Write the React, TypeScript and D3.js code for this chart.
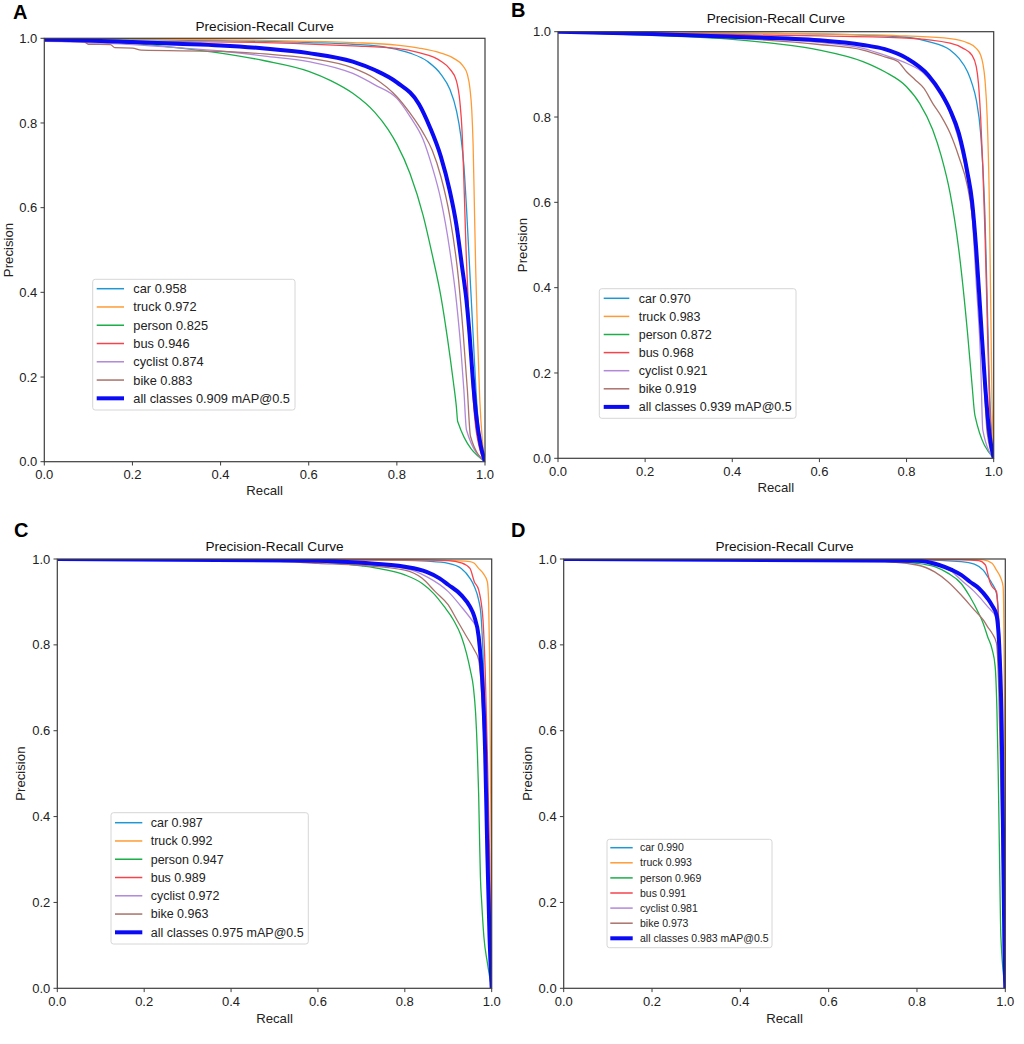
import React from 'react'
import * as d3 from 'd3'

// class names, colours and tick values shared by the four panels
const classNames = ['car', 'truck', 'person', 'bus', 'cyclist', 'bike', 'all classes']
const colors = ['#1f97d2', '#ff9b36', '#1bae49', '#f5444c', '#b189d8', '#a9726a', '#0a0af5']
const tickValues = [0, 0.2, 0.4, 0.6, 0.8, 1.0]

// AP per class (last one = mAP@0.5)
const apA = [0.958, 0.972, 0.825, 0.946, 0.874, 0.883, 0.909]
const apB = [0.970, 0.983, 0.872, 0.968, 0.921, 0.919, 0.939]
const apC = [0.987, 0.992, 0.947, 0.989, 0.972, 0.963, 0.975]
const apD = [0.990, 0.993, 0.969, 0.991, 0.981, 0.973, 0.983]

// [recall, precision] points
// panel A
const aCar = [[0, 1], [0.3, 0.996], [0.6, 0.99], [0.7, 0.986], [0.78, 0.978], [0.83, 0.965], [0.87, 0.945], [0.9, 0.915], [0.92, 0.88], [0.935, 0.83], [0.945, 0.77], [0.952, 0.7], [0.958, 0.6], [0.963, 0.5], [0.968, 0.4], [0.974, 0.28], [0.98, 0.16], [0.988, 0.06], [1, 0]]
const aTruck = [[0, 1], [0.5, 0.995], [0.7, 0.99], [0.8, 0.984], [0.85, 0.977], [0.9, 0.965], [0.93, 0.952], [0.95, 0.935], [0.96, 0.915], [0.966, 0.88], [0.97, 0.83], [0.973, 0.75], [0.976, 0.6], [0.979, 0.45], [0.983, 0.3], [0.988, 0.15], [0.994, 0.05], [1, 0]]
const aPerson = [[0, 0.998], [0.1, 0.995], [0.2, 0.988], [0.3, 0.978], [0.4, 0.965], [0.5, 0.947], [0.6, 0.922], [0.65, 0.9], [0.7, 0.87], [0.75, 0.825], [0.78, 0.785], [0.8, 0.75], [0.83, 0.68], [0.86, 0.58], [0.88, 0.49], [0.9, 0.39], [0.915, 0.29], [0.928, 0.19], [0.935, 0.13], [0.938, 0.095], [1, 0]]
const aBus = [[0, 0.995], [0.3, 0.992], [0.5, 0.99], [0.7, 0.982], [0.8, 0.976], [0.85, 0.966], [0.9, 0.946], [0.92, 0.928], [0.935, 0.9], [0.943, 0.85], [0.948, 0.78], [0.951, 0.7], [0.954, 0.6], [0.957, 0.5], [0.961, 0.4], [0.965, 0.3], [0.97, 0.2], [0.977, 0.1], [0.988, 0.03], [1, 0]]
const aCyclist = [[0, 0.995], [0.1, 0.99], [0.2, 0.985], [0.3, 0.978], [0.4, 0.97], [0.5, 0.958], [0.6, 0.945], [0.7, 0.917], [0.75, 0.89], [0.8, 0.858], [0.83, 0.815], [0.86, 0.76], [0.88, 0.697], [0.9, 0.618], [0.92, 0.5], [0.935, 0.38], [0.945, 0.27], [0.952, 0.17], [0.958, 0.075], [1, 0]]
const aBike = [[0, 0.993], [0.09, 0.992], [0.1, 0.986], [0.15, 0.985], [0.16, 0.978], [0.2, 0.977], [0.22, 0.972], [0.4, 0.969], [0.5, 0.963], [0.6, 0.953], [0.7, 0.93], [0.75, 0.905], [0.8, 0.862], [0.83, 0.823], [0.86, 0.776], [0.88, 0.736], [0.9, 0.673], [0.92, 0.58], [0.94, 0.43], [0.95, 0.31], [0.96, 0.17], [0.967, 0.06], [1, 0]]
const aAll = [[0, 0.997], [0.1, 0.995], [0.2, 0.991], [0.3, 0.987], [0.4, 0.983], [0.5, 0.976], [0.6, 0.965], [0.7, 0.945], [0.75, 0.925], [0.8, 0.896], [0.85, 0.845], [0.875, 0.79], [0.9, 0.72], [0.92, 0.64], [0.935, 0.56], [0.948, 0.46], [0.958, 0.38], [0.965, 0.3], [0.972, 0.2], [0.98, 0.11], [0.99, 0.04], [1, 0]]

// panel B
const bCar = [[0, 1], [0.5, 0.996], [0.7, 0.992], [0.8, 0.987], [0.85, 0.977], [0.9, 0.957], [0.92, 0.938], [0.94, 0.906], [0.95, 0.879], [0.96, 0.84], [0.97, 0.762], [0.975, 0.684], [0.98, 0.566], [0.985, 0.371], [0.99, 0.176], [0.995, 0.059], [1, 0]]
const bTruck = [[0, 1], [0.6, 0.995], [0.8, 0.99], [0.9, 0.984], [0.94, 0.974], [0.96, 0.961], [0.97, 0.945], [0.975, 0.926], [0.98, 0.887], [0.985, 0.8], [0.99, 0.6], [0.993, 0.37], [0.996, 0.14], [1, 0]]
const bPerson = [[0, 0.999], [0.2, 0.992], [0.4, 0.982], [0.5, 0.972], [0.6, 0.957], [0.7, 0.93], [0.75, 0.906], [0.8, 0.871], [0.83, 0.832], [0.86, 0.77], [0.88, 0.707], [0.9, 0.621], [0.92, 0.488], [0.94, 0.293], [0.95, 0.176], [0.957, 0.1], [1, 0]]
const bBus = [[0, 1], [0.3, 0.995], [0.6, 0.99], [0.8, 0.985], [0.9, 0.973], [0.93, 0.961], [0.95, 0.945], [0.96, 0.918], [0.965, 0.879], [0.97, 0.8], [0.975, 0.684], [0.98, 0.527], [0.985, 0.332], [0.99, 0.137], [1, 0]]
const bCyclist = [[0, 1], [0.3, 0.99], [0.6, 0.975], [0.7, 0.961], [0.75, 0.945], [0.8, 0.926], [0.84, 0.902], [0.88, 0.848], [0.9, 0.809], [0.92, 0.746], [0.94, 0.652], [0.95, 0.574], [0.96, 0.41], [0.97, 0.23], [0.975, 0.066], [1, 0]]
const bBike = [[0, 1], [0.3, 0.99], [0.6, 0.97], [0.7, 0.957], [0.75, 0.941], [0.78, 0.93], [0.8, 0.906], [0.82, 0.887], [0.84, 0.867], [0.86, 0.832], [0.88, 0.801], [0.9, 0.762], [0.92, 0.707], [0.94, 0.637], [0.95, 0.574], [0.96, 0.465], [0.97, 0.332], [0.98, 0.137], [0.985, 0.06], [1, 0]]
const bAll = [[0, 1], [0.2, 0.995], [0.4, 0.988], [0.6, 0.98], [0.7, 0.969], [0.75, 0.959], [0.8, 0.938], [0.85, 0.898], [0.88, 0.855], [0.9, 0.816], [0.92, 0.762], [0.94, 0.668], [0.95, 0.605], [0.96, 0.488], [0.97, 0.332], [0.98, 0.176], [0.99, 0.059], [1, 0]]

// panel C
const cCar = [[0, 1], [0.6, 0.998], [0.8, 0.997], [0.85, 0.995], [0.9, 0.99], [0.93, 0.978], [0.95, 0.955], [0.96, 0.936], [0.97, 0.904], [0.975, 0.873], [0.98, 0.78], [0.985, 0.625], [0.99, 0.392], [0.995, 0.159], [1, 0]]
const cTruck = [[0, 1], [0.8, 0.998], [0.9, 0.997], [0.95, 0.994], [0.96, 0.99], [0.97, 0.978], [0.98, 0.967], [0.99, 0.947], [0.993, 0.897], [0.995, 0.78], [0.997, 0.547], [0.999, 0.237], [1, 0]]
const cPerson = [[0, 1], [0.5, 0.997], [0.6, 0.994], [0.7, 0.984], [0.75, 0.976], [0.8, 0.963], [0.84, 0.943], [0.866, 0.92], [0.89, 0.89], [0.912, 0.858], [0.93, 0.82], [0.942, 0.78], [0.951, 0.74], [0.958, 0.7], [0.963, 0.64], [0.967, 0.55], [0.97, 0.45], [0.972, 0.35], [0.974, 0.26], [0.977, 0.2], [0.982, 0.12], [0.99, 0.06], [1, 0]]
const cBus = [[0, 1], [0.8, 0.998], [0.9, 0.996], [0.93, 0.991], [0.95, 0.978], [0.96, 0.947], [0.97, 0.928], [0.975, 0.904], [0.98, 0.858], [0.985, 0.741], [0.99, 0.547], [0.995, 0.314], [1, 0]]
const cCyclist = [[0, 1], [0.5, 0.996], [0.6, 0.993], [0.7, 0.988], [0.8, 0.978], [0.85, 0.959], [0.9, 0.924], [0.93, 0.889], [0.96, 0.85], [0.97, 0.835], [0.975, 0.765], [0.98, 0.664], [0.985, 0.547], [0.99, 0.314], [1, 0]]
const cBike = [[0, 1], [0.5, 0.995], [0.6, 0.99], [0.7, 0.985], [0.8, 0.974], [0.84, 0.955], [0.87, 0.924], [0.9, 0.893], [0.92, 0.858], [0.94, 0.823], [0.96, 0.788], [0.97, 0.765], [0.975, 0.718], [0.98, 0.625], [0.985, 0.509], [0.99, 0.314], [1, 0]]
const cAll = [[0, 1], [0.6, 0.996], [0.7, 0.991], [0.8, 0.982], [0.85, 0.97], [0.88, 0.955], [0.9, 0.94], [0.93, 0.916], [0.95, 0.889], [0.96, 0.866], [0.97, 0.819], [0.975, 0.765], [0.98, 0.687], [0.985, 0.547], [0.99, 0.314], [0.995, 0.12], [1, 0]]

// panel D
const dCar = [[0, 1], [0.8, 0.998], [0.9, 0.994], [0.93, 0.988], [0.95, 0.974], [0.96, 0.959], [0.97, 0.943], [0.98, 0.92], [0.985, 0.858], [0.99, 0.703], [0.995, 0.392], [1, 0]]
const dTruck = [[0, 1], [0.9, 0.999], [0.95, 0.998], [0.97, 0.99], [0.98, 0.974], [0.99, 0.955], [0.995, 0.936], [0.997, 0.819], [0.999, 0.47], [1, 0]]
const dPerson = [[0, 1], [0.7, 0.995], [0.8, 0.99], [0.84, 0.982], [0.87, 0.967], [0.9, 0.943], [0.92, 0.912], [0.94, 0.873], [0.95, 0.85], [0.96, 0.819], [0.97, 0.79], [0.977, 0.75], [0.981, 0.65], [0.984, 0.5], [0.987, 0.3], [0.99, 0.12], [1, 0]]
const dBus = [[0, 1], [0.9, 0.998], [0.94, 0.996], [0.955, 0.986], [0.96, 0.967], [0.965, 0.947], [0.97, 0.936], [0.98, 0.924], [0.985, 0.858], [0.99, 0.741], [0.995, 0.431], [1, 0]]
const dCyclist = [[0, 1], [0.8, 0.995], [0.85, 0.985], [0.88, 0.97], [0.9, 0.951], [0.93, 0.924], [0.96, 0.889], [0.98, 0.862], [0.985, 0.819], [0.99, 0.625], [0.995, 0.314], [1, 0]]
const dBike = [[0, 1], [0.7, 0.995], [0.8, 0.986], [0.84, 0.97], [0.87, 0.947], [0.9, 0.916], [0.93, 0.881], [0.95, 0.858], [0.96, 0.842], [0.97, 0.827], [0.98, 0.804], [0.985, 0.703], [0.99, 0.47], [0.995, 0.237], [1, 0]]
const dAll = [[0, 1], [0.8, 0.996], [0.85, 0.986], [0.88, 0.974], [0.9, 0.963], [0.92, 0.947], [0.94, 0.932], [0.96, 0.908], [0.97, 0.892], [0.98, 0.87], [0.987, 0.78], [0.992, 0.6], [0.995, 0.35], [0.998, 0.1], [1, 0]]

const FONT = '"Liberation Sans", Arial, Helvetica, sans-serif'

// where each panel sits on the page
const panels = [
  {
    letter: 'A', curves: [aCar, aTruck, aPerson, aBus, aCyclist, aBike, aAll], ap: apA,
    left: 44.3, right: 485, top: 38.3, bottom: 461.7,
    letterX: 13, letterY: 18.5, titleY: 26, tickY: 474, recallY: 490.7, precX: 8.3,
    legend: { x: 92.7, y: 279.3, w: 202.3, h: 130.7, row0: 288.7, step: 18.27, lx0: 96.7, lx1: 124, tx: 133.3, fs: 12.8 },
  },
  {
    letter: 'B', curves: [bCar, bTruck, bPerson, bBus, bCyclist, bBike, bAll], ap: apB,
    left: 558, right: 993.7, top: 31.7, bottom: 458.3,
    letterX: 511, letterY: 17, titleY: 18.3, tickY: 471.7, recallY: 487.7, precX: 522.7,
    legend: { x: 599.3, y: 288.7, w: 196.7, h: 129.6, row0: 298.3, step: 18.1, lx0: 603.7, lx1: 629.3, tx: 638.7, fs: 12.5 },
  },
  {
    letter: 'C', curves: [cCar, cTruck, cPerson, cBus, cCyclist, cBike, cAll], ap: apC,
    left: 57.3, right: 491.7, top: 559, bottom: 988.3,
    letterX: 14, letterY: 537, titleY: 546, tickY: 1001.7, recallY: 1018.3, precX: 20.7,
    legend: { x: 111, y: 812.7, w: 197.3, h: 131.3, row0: 822.7, step: 18.27, lx0: 115, lx1: 142.3, tx: 150.7, fs: 12.5 },
  },
  {
    letter: 'D', curves: [dCar, dTruck, dPerson, dBus, dCyclist, dBike, dAll], ap: apD,
    left: 563.7, right: 1005.3, top: 559, bottom: 988.3,
    letterX: 511, letterY: 537, titleY: 546, tickY: 1001.7, recallY: 1018.3, precX: 527,
    legend: { x: 607, y: 839.3, w: 165, h: 108.4, row0: 847.7, step: 15.1, lx0: 610.3, lx1: 632.7, tx: 640, fs: 10.5 },
  },
]

function Panel({ p, idx }) {
  const x = d3.scaleLinear().domain([0, 1]).range([p.left, p.right])
  const y = d3.scaleLinear().domain([0, 1]).range([p.bottom, p.top])
  const line = d3.line().x((d) => x(d[0])).y((d) => y(d[1])).curve(d3.curveMonotoneX)
  const fmt = d3.format('.1f')
  const clipId = 'clip' + idx
  const lg = p.legend
  const cx = (p.left + p.right) / 2
  const cy = (p.top + p.bottom) / 2

  return (
    <g fontFamily={FONT}>
      <text x={p.letterX} y={p.letterY} fontSize={20} fontWeight="bold" fill="#000">{p.letter}</text>
      <text x={cx} y={p.titleY} dy="0.35em" textAnchor="middle" fontSize={13.6} fill="#111">Precision-Recall Curve</text>
      <defs>
        <clipPath id={clipId}>
          <rect x={p.left} y={p.top} width={p.right - p.left} height={p.bottom - p.top} />
        </clipPath>
      </defs>
      <g clipPath={`url(#${clipId})`}>
        {p.curves.map((c, i) => (
          <path key={i} d={line(c)} fill="none" stroke={colors[i]}
            strokeWidth={i === 6 ? 4 : 1.3} strokeLinejoin="round" />
        ))}
      </g>
      <rect x={p.left} y={p.top} width={p.right - p.left} height={p.bottom - p.top}
        fill="none" stroke="#3d3d3d" strokeWidth={1.2} />
      {tickValues.map((t) => (
        <g key={'x' + t}>
          <line x1={x(t)} x2={x(t)} y1={p.bottom} y2={p.bottom + 3.8} stroke="#3d3d3d" strokeWidth={1} />
          <text x={x(t)} y={p.tickY} dy="0.35em" textAnchor="middle" fontSize={13} fill="#222">{fmt(t)}</text>
        </g>
      ))}
      {tickValues.map((t) => (
        <g key={'y' + t}>
          <line x1={p.left - 3.8} x2={p.left} y1={y(t)} y2={y(t)} stroke="#3d3d3d" strokeWidth={1} />
          <text x={p.left - 7} y={y(t)} dy="0.35em" textAnchor="end" fontSize={13} fill="#222">{fmt(t)}</text>
        </g>
      ))}
      <text x={cx} y={p.recallY} dy="0.35em" textAnchor="middle" fontSize={13.2} fill="#222">Recall</text>
      <text transform={`translate(${p.precX},${cy}) rotate(-90)`} dy="0.35em" textAnchor="middle" fontSize={13.2} fill="#222">Precision</text>
      <rect x={lg.x} y={lg.y} width={lg.w} height={lg.h} rx={2.5} fill="#fff" fillOpacity={0.85} stroke="#d6d6d6" strokeWidth={1} />
      {classNames.map((name, i) => {
        const ry = lg.row0 + i * lg.step
        const label = i === 6
          ? `${name} ${p.ap[i].toFixed(3)} mAP@0.5`
          : `${name} ${p.ap[i].toFixed(3)}`
        return (
          <g key={name}>
            <line x1={lg.lx0} x2={lg.lx1} y1={ry} y2={ry} stroke={colors[i]} strokeWidth={i === 6 ? 4 : 1.5} />
            <text x={lg.tx} y={ry} dy="0.35em" fontSize={lg.fs} fill="#222">{label}</text>
          </g>
        )
      })}
    </g>
  )
}

export default function App() {
  return (
    <svg width={1024} height={1044} style={{ position: 'absolute', left: 0, top: 0, background: '#fff' }}>
      {panels.map((p, i) => <Panel key={p.letter} p={p} idx={i} />)}
    </svg>
  )
}
